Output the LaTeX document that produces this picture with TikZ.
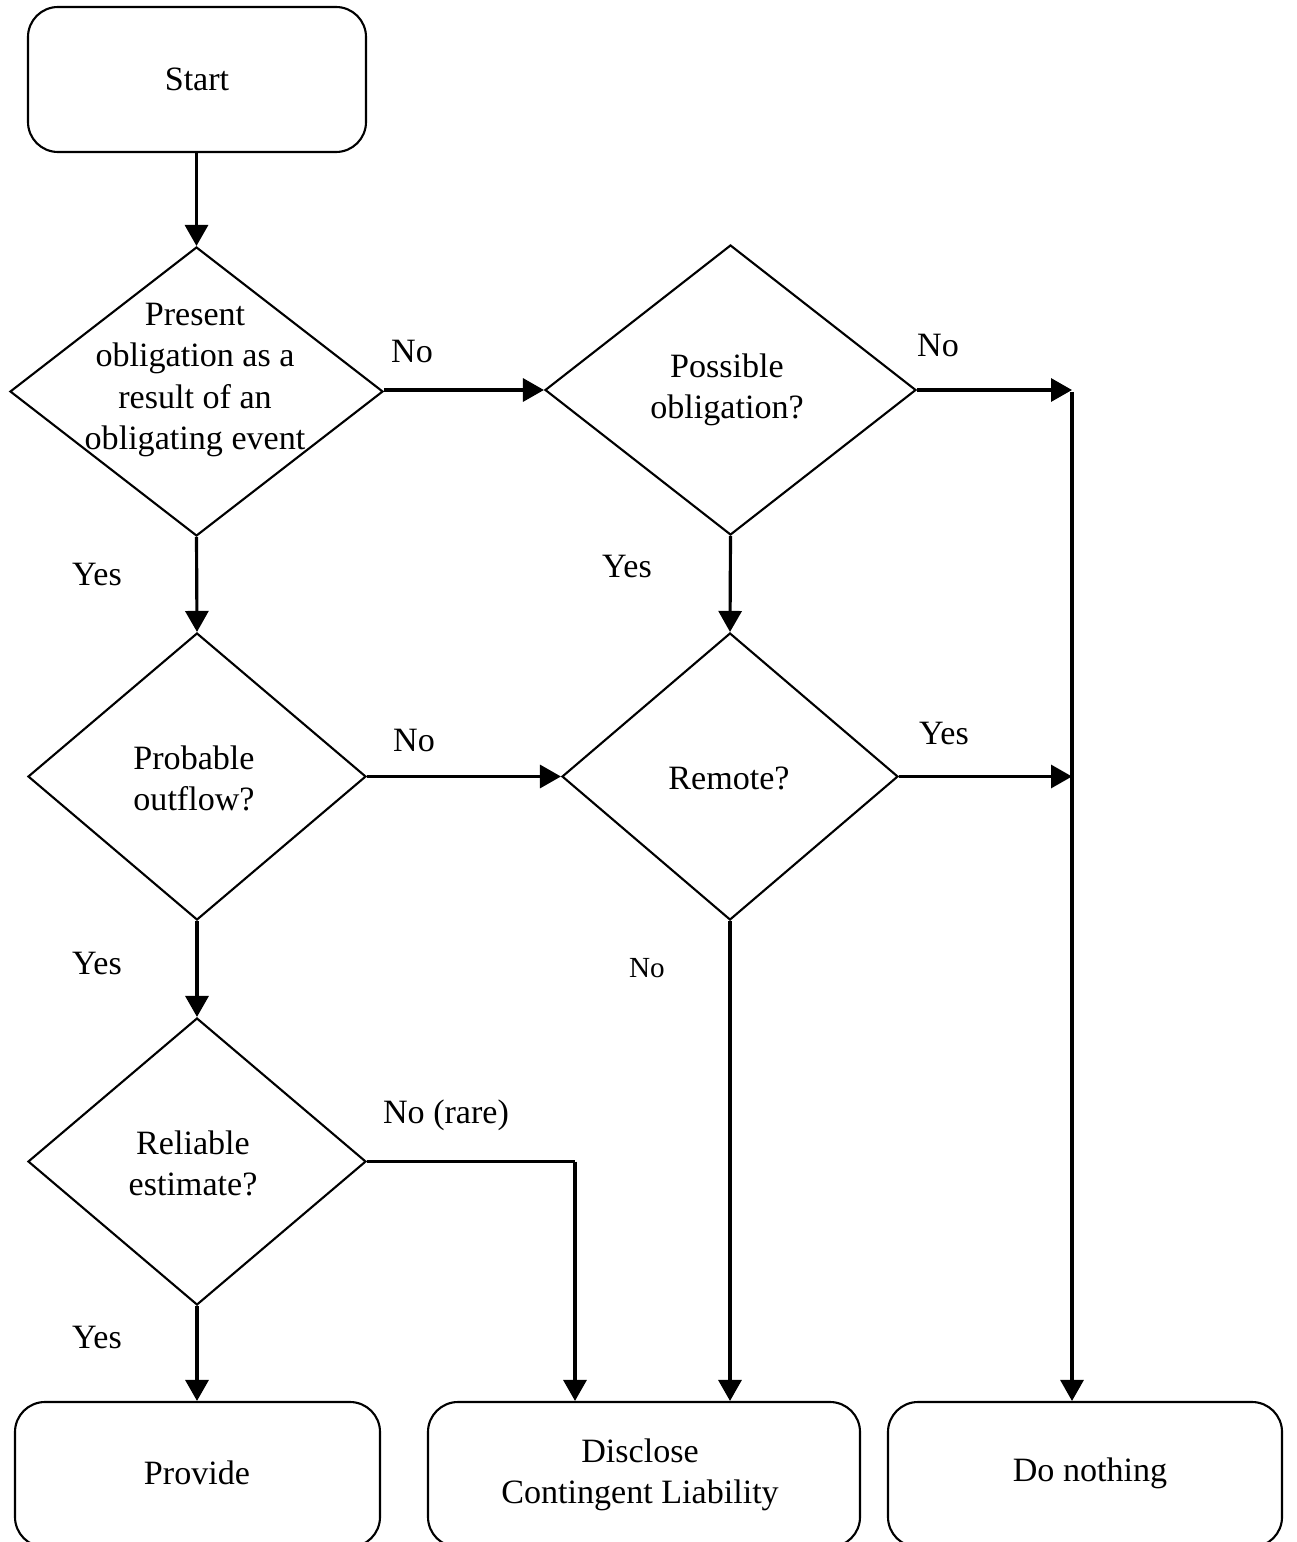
\documentclass[tikz,border=0pt]{standalone}
\usepackage{fontspec}
\setmainfont{Liberation Serif}
\usetikzlibrary{shapes.geometric,arrows.meta}
\begin{document}
\begin{tikzpicture}[
	txt/.style={black, align=center, font=\fontsize{9.7}{11.7}\selectfont, inner sep=0pt},
	lbl/.style={black, font=\fontsize{9.7}{11.7}\selectfont, inner sep=0pt},
	endbox/.style={draw=black, line width=0.6pt, rounded corners=0.3cm, minimum width=#1, minimum height=1.45cm, inner sep=0pt},
	query/.style={draw=black, line width=0.6pt, diamond, inner sep=0pt},
	arr/.style={draw=black, line width=0.9pt, -{Triangle[length=2.1mm,width=2.3mm]}},
	flow/.style={draw=black, line width=0.9pt}
]
	\useasboundingbox (0.00,0.00) rectangle (12.97,-15.42);
	\clip (0.00,0.00) rectangle (12.97,-15.42);
	% boxes
	\node[endbox=3.38cm] (start) at (1.97,-0.795) {};
	\node[endbox=3.65cm] (provide) at (1.975,-14.745) {};
	\node[endbox=4.32cm] (disclose) at (6.44,-14.745) {};
	\node[endbox=3.94cm] (nothing) at (10.85,-14.745) {};
	% decisions
	\node[query, minimum width=3.73cm, minimum height=2.89cm] (present) at (1.965,-3.915) {};
	\node[query, minimum width=3.71cm, minimum height=2.90cm] (possible) at (7.305,-3.90) {};
	\node[query, minimum width=3.38cm, minimum height=2.87cm] (probable) at (1.97,-7.765) {};
	\node[query, minimum width=3.36cm, minimum height=2.87cm] (remote) at (7.30,-7.765) {};
	\node[query, minimum width=3.38cm, minimum height=2.87cm] (reliable) at (1.97,-11.615) {};
	% texts
	\node[txt] (startT) at (1.97,-0.79) {Start};
	\node[txt] (presentT) at (1.95,-3.80) {Present\\obligation as a\\result of an\\obligating event};
	\node[txt] (possibleT) at (7.27,-3.90) {Possible\\obligation?};
	\node[txt] (probableT) at (1.94,-7.78) {Probable\\outflow?};
	\node[txt] (remoteT) at (7.29,-7.78) {Remote?};
	\node[txt] (reliableT) at (1.93,-11.63) {Reliable\\estimate?};
	\node[txt] (provideT) at (1.97,-14.73) {Provide};
	\node[txt] (discloseT) at (6.40,-14.745) {Disclose\\Contingent Liability};
	\node[txt] (nothingT) at (10.90,-14.73) {Do nothing};
	% junctions
	\coordinate (j1) at (10.72,-3.90);
	\coordinate (j2) at (10.72,-7.765);
	\coordinate (j3) at (5.75,-11.615);
	\coordinate (j4) at (10.72,-3.92);
	% connectors
	\draw[arr] (start.south -| present.north) -- (present.north);
	\draw[arr] (possible.west -| present.east) -- (possible.west);
	\draw[arr] (possible.east) -- (j1);
	\draw[arr] (j4) -- (j4 |- nothing.north);
	\draw[arr] (present.south) -- (probable.north);
	\draw[arr] (possible.south) -- (remote.north);
	\draw[arr] (probable.east) -- (remote.west);
	\draw[arr] (remote.east) -- (j2);
	\draw[arr] (remote.south) -- (remote.south |- disclose.north);
	\draw[arr] (probable.south) -- (reliable.north);
	\draw[flow] (reliable.east) -- (j3);
	\draw[arr] (j3) -- (j3 |- disclose.north);
	\draw[arr] (reliable.south) -- (reliable.south |- provide.north);
	% labels
	\node[lbl] (l1) at (4.12,-3.52) {No};
	\node[lbl] (l2) at (9.38,-3.46) {No};
	\node[lbl] (l3) at (0.97,-5.74) {Yes};
	\node[lbl] (l4) at (6.27,-5.67) {Yes};
	\node[lbl] (l5) at (4.14,-7.40) {No};
	\node[lbl] (l6) at (9.44,-7.33) {Yes};
	\node[lbl, font=\fontsize{8.3}{10}\selectfont] (l7) at (6.47,-9.68) {No};
	\node[lbl] (l8) at (0.97,-9.63) {Yes};
	\node[lbl] (l9) at (4.46,-11.15) {No (rare)};
	\node[lbl] (l10) at (0.97,-13.37) {Yes};
\end{tikzpicture}
\end{document}
